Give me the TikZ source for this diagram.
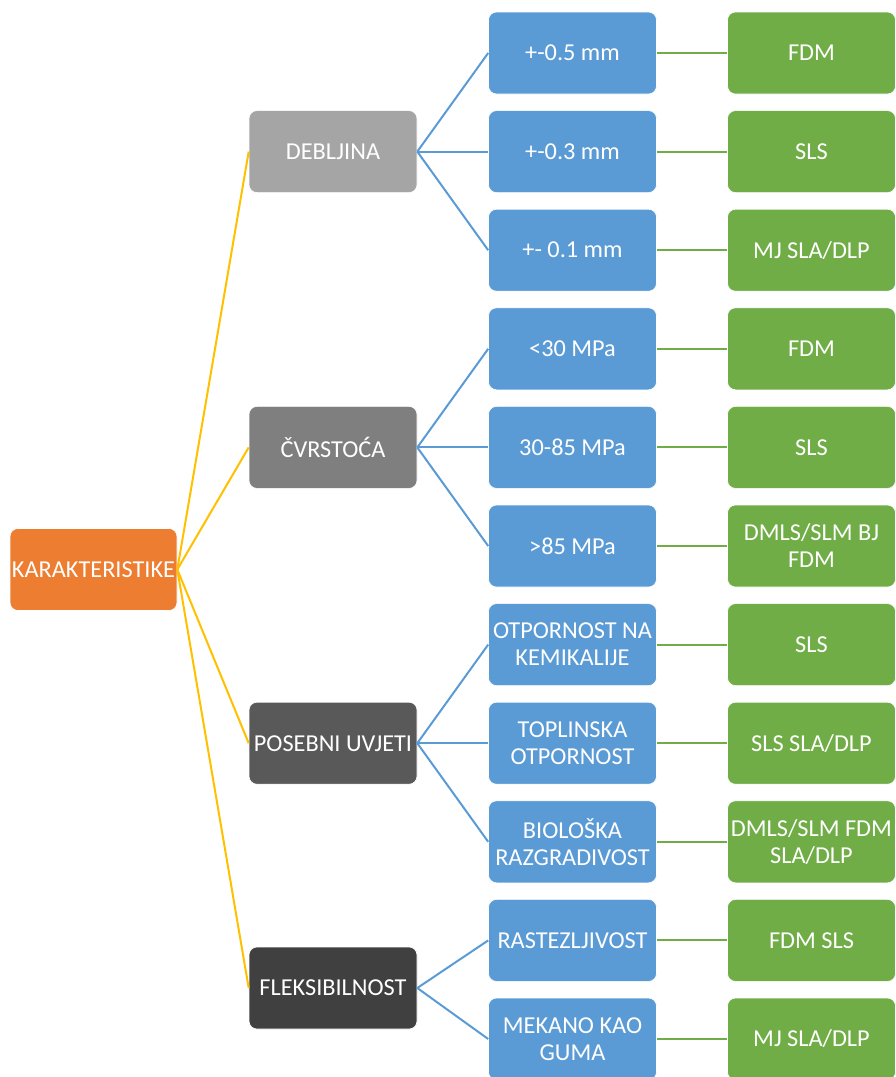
\documentclass[tikz,border=0pt]{standalone}
\usepackage{fontspec}
\setmainfont{Carlito}
\usetikzlibrary{positioning}
\definecolor{rootorange}{HTML}{ED7D31}
\definecolor{greyA}{HTML}{A5A5A5}
\definecolor{greyB}{HTML}{7F7F7F}
\definecolor{greyC}{HTML}{595959}
\definecolor{greyD}{HTML}{404040}
\definecolor{valblue}{HTML}{5B9BD5}
\definecolor{techgreen}{HTML}{70AD47}
\definecolor{linkgold}{HTML}{FFC000}
\tikzset{
  box/.style={rounded corners=8pt,minimum width=168pt,minimum height=82pt,inner sep=1pt,
    align=center,text=white,draw=white,line width=.6pt,
    font=\fontsize{24.3}{27}\selectfont},
  valbox/.style={box,fill=valblue},
  techbox/.style={box,fill=techgreen},
  goldlink/.style={linkgold,line width=2pt},
  bluelink/.style={valblue,line width=2pt},
  greenlink/.style={techgreen,line width=2pt}
}
\begin{document}
\begin{tikzpicture}[x=1pt,y=-1pt]
\useasboundingbox (0,0) rectangle (895,1077);
% root
\node[box,fill=rootorange,minimum width=167pt] (root) at (93.5,569.5) {KARAKTERISTIKE};
% level 1
\node[box,fill=greyA] (deb) at (333,151.6) {DEBLJINA};
\node[box,fill=greyB] (cvr) at (333,447.4) {ČVRSTOĆA};
\node[box,fill=greyC] (pos) at (333,743.2) {POSEBNI UVJETI};
\node[box,fill=greyD] (fle) at (333,988) {FLEKSIBILNOST};
% level 2
\node[valbox] (v1) at (572.5,53) {+-0.5 mm};
\node[valbox] (v2) at (572.5,151.6) {+-0.3 mm};
\node[valbox] (v3) at (572.5,250.2) {+- 0.1 mm};
\node[valbox] (v4) at (572.5,348.8) {<30 MPa};
\node[valbox] (v5) at (572.5,447.4) {30-85 MPa};
\node[valbox] (v6) at (572.5,546) {>85 MPa};
\node[valbox] (v7) at (572.5,644.6) {OTPORNOST NA\\KEMIKALIJE};
\node[valbox] (v8) at (572.5,743.2) {TOPLINSKA\\OTPORNOST};
\node[valbox] (v9) at (572.5,841.8) {BIOLOŠKA\\RAZGRADIVOST};
\node[valbox] (v10) at (572.5,940.4) {RASTEZLJIVOST};
\node[valbox] (v11) at (572.5,1039) {MEKANO KAO\\GUMA};
% level 3
\node[techbox] (t1) at (811.5,53) {FDM};
\node[techbox] (t2) at (811.5,151.6) {SLS};
\node[techbox] (t3) at (811.5,250.2) {MJ SLA/DLP};
\node[techbox] (t4) at (811.5,348.8) {FDM};
\node[techbox] (t5) at (811.5,447.4) {SLS};
\node[techbox] (t6) at (811.5,546) {DMLS/SLM BJ\\FDM};
\node[techbox] (t7) at (811.5,644.6) {SLS};
\node[techbox] (t8) at (811.5,743.2) {SLS SLA/DLP};
\node[techbox] (t9) at (811.5,841.8) {DMLS/SLM FDM\\SLA/DLP};
\node[techbox] (t10) at (811.5,940.4) {FDM SLS};
\node[techbox] (t11) at (811.5,1039) {MJ SLA/DLP};
% connectors
\foreach \k in {deb,cvr,pos,fle}
  \draw[goldlink] (root.east) -- (\k.west);
\foreach \v in {v1,v2,v3}
  \draw[bluelink] (deb.east) -- (\v.west);
\foreach \v in {v4,v5,v6}
  \draw[bluelink] (cvr.east) -- (\v.west);
\foreach \v in {v7,v8,v9}
  \draw[bluelink] (pos.east) -- (\v.west);
\foreach \v in {v10,v11}
  \draw[bluelink] (fle.east) -- (\v.west);
\foreach \i in {1,...,11}
  \draw[greenlink] (v\i.east) -- (t\i.west);
\end{tikzpicture}
\end{document}
